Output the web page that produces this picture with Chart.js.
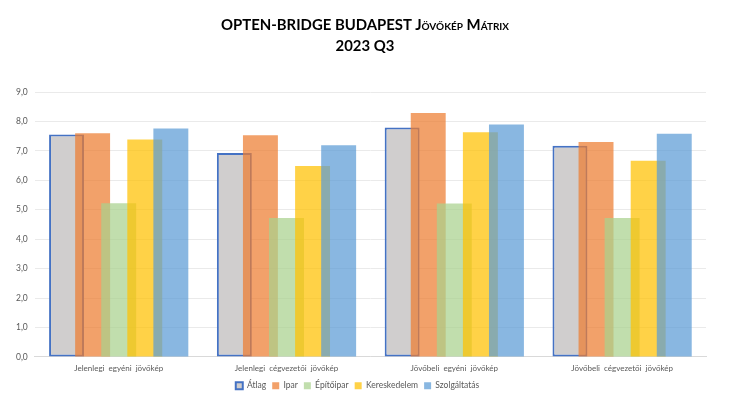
<!DOCTYPE html>
<html>
<head>
<meta charset="utf-8">
<script src="https://cdn.jsdelivr.net/npm/chart.js@4"></script>
<style>
  html, body { margin: 0; padding: 0; background: #fff; }
  #wrap { position: relative; width: 730px; height: 399px; }
  #title {
    position: absolute; left: 0; top: 14px; width: 730px; text-align: center;
    font-family: Lato, "Open Sans", sans-serif; font-weight: bold; font-size: 14.9px;
    line-height: 21px; color: #000;
  }
  #title .sc { font-variant: small-caps; }
</style>
</head>
<body>
<div id="wrap">
  <canvas id="myChart" width="730" height="399"></canvas>
  <div id="title">OPTEN-BRIDGE BUDAPEST <span class="sc">Jövőkép Mátrix</span><br>2023 Q3</div>
</div>
<script>
var categories = ['Jelenlegi  egyéni  jövőkép', 'Jelenlegi  cégvezetői  jövőkép', 'Jövőbeli  egyéni  jövőkép', 'Jövőbeli  cégvezetői  jövőkép'];
var atlag = [7.56, 6.93, 7.79, 7.17];
var ipar = [7.6, 7.53, 8.29, 7.3];
var epitoipar = [5.22, 4.72, 5.21, 4.72];
var kereskedelem = [7.39, 6.49, 7.63, 6.66];
var szolgaltatas = [7.76, 7.19, 7.9, 7.58];
var yTicks = [0, 1, 2, 3, 4, 5, 6, 7, 8, 9];

var font = 'Lato, "Open Sans", sans-serif';

function bar(label, values, bg, extra) {
  var ds = {
    label: label,
    data: values,
    backgroundColor: bg,
    borderWidth: 0,
    barPercentage: 1.34,
    categoryPercentage: 0.777
  };
  return Object.assign(ds, extra || {});
}

var data = {
  labels: categories,
  datasets: [
    bar('Átlag', atlag, '#D0CECE', { borderColor: '#4472C4', borderWidth: 2, borderSkipped: false }),
    bar('Ipar', ipar, 'rgba(237, 125, 49, 0.72)'),
    bar('Építőipar', epitoipar, 'rgba(169, 209, 142, 0.72)'),
    bar('Kereskedelem', kereskedelem, 'rgba(255, 192, 0, 0.72)'),
    bar('Szolgáltatás', szolgaltatas, 'rgba(91, 155, 213, 0.72)')
  ]
};

// draw datasets left to right so later series sit on top (like the excel overlap)
var drawOrder = {
  id: 'drawOrder',
  beforeDatasetsDraw: function(chart) {
    var ctx = chart.ctx, a = chart.chartArea;
    ctx.save();
    ctx.beginPath();
    ctx.rect(a.left, a.top - 2, a.right - a.left, a.bottom - a.top + 4);
    ctx.clip();
    chart.getSortedVisibleDatasetMetas().forEach(function(meta) {
      meta.controller.draw();
    });
    ctx.restore();
    return false;
  }
};

var options = {
  responsive: false,
  animation: false,
  layout: { padding: { top: 92, left: 9, right: 24, bottom: -1 } },
  scales: {
    x: {
      grid: { display: false, drawTicks: false },
      border: { color: '#D9D9D9', width: 1 },
      ticks: { color: '#595959', font: { family: font, size: 8 }, padding: 7, maxRotation: 0 },
      afterFit: function(axis) {
        axis.height -= 5; // pull the legend up under the labels
      }
    },
    y: {
      min: 0,
      max: 9,
      afterBuildTicks: function(axis) {
        axis.ticks = yTicks.map(function(v) { return { value: v }; });
      },
      grid: { color: '#EAEAEA', drawTicks: false },
      border: { display: false },
      ticks: {
        color: '#595959',
        font: { family: font, size: 8.5 },
        padding: 7,
        callback: function(value) {
          return value.toFixed(1).replace('.', ',');
        }
      }
    }
  },
  plugins: {
    legend: {
      position: 'bottom',
      labels: {
        boxWidth: 7,
        boxHeight: 7,
        padding: 6,
        color: '#595959',
        font: { family: font, size: 8.5 }
      }
    },
    tooltip: { enabled: false }
  }
};

var ctx = document.getElementById('myChart').getContext('2d');
var chart = new Chart(ctx, {
  type: 'bar',
  data: data,
  options: options,
  plugins: [drawOrder]
});
</script>
</body>
</html>
